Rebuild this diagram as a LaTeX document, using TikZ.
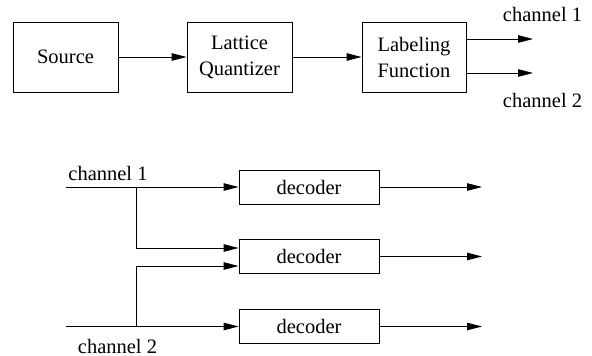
\documentclass[tikz,border=0pt]{standalone}
\usepackage{fontspec}
\setmainfont{Liberation Serif}
\usetikzlibrary{arrows.meta}
\begin{document}
\begin{tikzpicture}[x=1pt,y=-1pt,
  every node/.style={font=\fontsize{20.5}{26}\selectfont},
  blk/.style={draw,line width=0.9pt,minimum width=105pt,minimum height=70pt,align=center,inner sep=0pt},
  dec/.style={draw,line width=0.9pt,minimum width=140pt,minimum height=34pt,inner sep=0pt},
  lbl/.style={anchor=base,inner sep=0pt},
  conn/.style={line width=0.9pt,-{Triangle[length=15pt,width=7.5pt]}},
  wire/.style={line width=0.9pt}]
\useasboundingbox (0,0) rectangle (592,356);
\node[blk] (src) at (65.5,57) {Source};
\node[blk] (lq) at (239.5,57) {Lattice\\Quantizer};
\node[blk,minimum width=104pt] (lf) at (414,57) {Labeling\\Function};
\draw[conn] (src) -- (lq);
\draw[conn] (lq) -- (lf);
\coordinate (o1) at (533,39);
\coordinate (o2) at (533,73);
\draw[conn] (lf.east |- o1) -- (o1);
\draw[conn] (lf.east |- o2) -- (o2);
\node[lbl] (c1t) at (542.5,21) {channel 1};
\node[lbl] (c2t) at (542.5,107) {channel 2};

\node[dec] (d1) at (309,187) {decoder};
\node[dec] (d2) at (309,256.5) {decoder};
\node[dec] (d3) at (309,326.5) {decoder};
\coordinate (in1) at (66,187);
\coordinate (in2) at (66,326.5);
\coordinate (b1) at (136,187);
\coordinate (b2) at (136,326.5);
\coordinate (e1) at (482,187);
\coordinate (e2) at (482,256.5);
\coordinate (e3) at (482,326.5);
\draw[conn] (in1) -- (d1.west);
\draw[conn] (in2) -- (d3.west);
\draw[conn] (b1) |- ([yshift=8.5pt]d2.west);
\draw[conn] (b2) |- ([yshift=-9.5pt]d2.west);
\draw[conn] (d1.east) -- (e1);
\draw[conn] (d2.east) -- (e2);
\draw[conn] (d3.east) -- (e3);
\node[lbl] (c1b) at (108,180) {channel 1};
\node[lbl,text depth=0pt] (c2b) at (117.5,353) {channel 2};
\end{tikzpicture}
\end{document}
